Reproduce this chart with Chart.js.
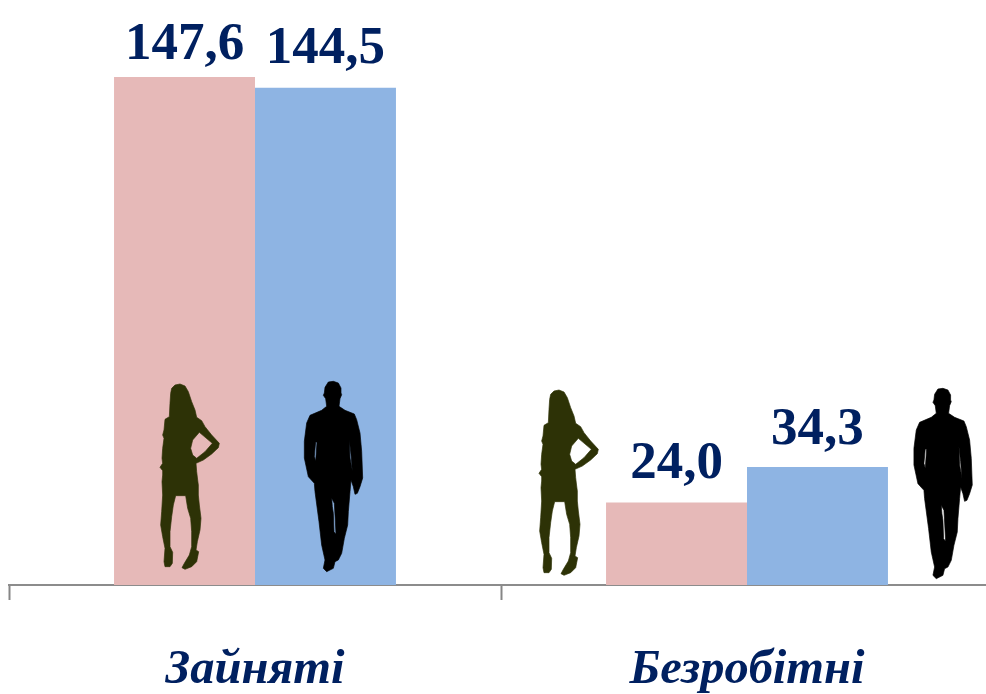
<!DOCTYPE html>
<html>
<head>
<meta charset="utf-8">
<style>
  html, body { margin: 0; padding: 0; background: #fff; overflow: hidden; }
  #wrap { width: 986px; height: 694px; overflow: hidden; }
  canvas { display: block; }
</style>
<script src="https://cdn.jsdelivr.net/npm/chart.js@4"></script>
</head>
<body>
<div id="wrap"><canvas id="chart" width="1000" height="694"></canvas></div>
<script>
const categories = ['Зайняті', 'Безробітні'];
const womenValues = [147.6, 24.0];
const menValues = [144.5, 34.3];

const labelColor = '#002060';
const womanColor = '#2d3206';
const manColor = '#000000';

// gap between bar top and label baseline, the labels do not sit evenly in the picture
const labelGaps = [[18, 24], [25, 23]];

// silhouette outlines, in 3x units around a (140,370) origin
const womanOutline = [[120,42],[135,48],[145,65],[155,95],[165,120],[170,142],[185,152],[195,170],[215,195],[238,220],[235,233],[215,252],[190,270],[168,280],[170,305],[173,330],[175,345],[175,375],[178,405],[183,445],[180,480],[172,515],[168,540],[176,545],[170,575],[155,590],[135,598],[126,593],[133,580],[148,555],[155,530],[155,485],[152,445],[143,415],[137,377],[107,377],[100,405],[95,440],[90,485],[90,530],[98,547],[97,580],[90,590],[75,590],[72,575],[75,535],[68,500],[62,465],[65,425],[68,375],[66,335],[68,315],[68,302],[60,292],[68,280],[66,265],[68,235],[72,205],[68,195],[72,180],[75,148],[88,140],[90,100],[92,70],[95,55],[105,45]];
const womanHole = [[178,187],[217,220],[195,245],[170,265],[158,255],[152,235],[158,210]];
const manOutline = [[580,34],[595,39],[603,54],[603,69],[605,74],[600,86],[597,109],[615,121],[643,132],[650,149],[660,189],[665,244],[668,324],[660,350],[652,370],[645,373],[640,350],[633,330],[630,365],[625,425],[623,465],[613,505],[605,550],[595,570],[585,575],[580,595],[560,605],[550,595],[555,570],[545,525],[537,455],[525,365],[523,340],[505,320],[493,264],[493,214],[500,159],[510,136],[545,121],[560,109],[557,86],[550,76],[553,69],[555,52],[565,36]];
const manHoles = [
    [[527,216],[531,216],[527,274],[523,259]],
    [[628,209],[633,254],[637,302],[630,264]],
    [[575,385],[583,400],[585,435],[588,493],[582,485],[580,430],[577,410]]
];

function tracePolygon(ctx, pts) {
    pts.forEach((p, i) => {
        if (i === 0) ctx.moveTo(p[0], p[1]);
        else ctx.lineTo(p[0], p[1]);
    });
    ctx.closePath();
}

function drawFigure(ctx, shapes, color, dx, dy) {
    ctx.save();
    ctx.translate(140 + dx, 370 + dy);
    ctx.scale(1 / 3, 1 / 3);
    ctx.beginPath();
    shapes.forEach(s => tracePolygon(ctx, s));
    ctx.fillStyle = color;
    ctx.strokeStyle = color;
    ctx.lineWidth = 2;
    ctx.lineJoin = 'round';
    ctx.fill('evenodd');
    ctx.stroke();
    ctx.restore();
}

const figuresPlugin = {
    id: 'figures',
    afterDatasetsDraw(chart) {
        const ctx = chart.ctx;
        drawFigure(ctx, [womanOutline, womanHole], womanColor, 0, 0);
        drawFigure(ctx, [manOutline, ...manHoles], manColor, 0, 0);
        drawFigure(ctx, [womanOutline, womanHole], womanColor, 379, 6);
        drawFigure(ctx, [manOutline, ...manHoles], manColor, 609.6, 7);
    }
};

const valueLabelsPlugin = {
    id: 'valueLabels',
    afterDatasetsDraw(chart) {
        const ctx = chart.ctx;
        ctx.save();
        ctx.font = 'bold 53px "Liberation Serif"';
        ctx.fillStyle = labelColor;
        ctx.textAlign = 'center';
        ctx.textBaseline = 'alphabetic';
        chart.data.datasets.forEach((ds, d) => {
            chart.getDatasetMeta(d).data.forEach((bar, i) => {
                const text = ds.data[i].toFixed(1).replace('.', ',');
                ctx.fillText(text, bar.x, bar.y - labelGaps[d][i]);
            });
        });
        ctx.restore();
    }
};

new Chart(document.getElementById('chart'), {
    type: 'bar',
    data: {
        labels: categories,
        datasets: [
            { label: 'Жінки', data: womenValues, backgroundColor: '#e6b9b8' },
            { label: 'Чоловіки', data: menValues, backgroundColor: '#8eb4e3' }
        ]
    },
    options: {
        responsive: false,
        animation: false,
        layout: { padding: { left: 9, right: 7, top: 0, bottom: 0 } },
        plugins: { legend: { display: false }, tooltip: { enabled: false } },
        datasets: { bar: { categoryPercentage: 0.573, barPercentage: 1 } },
        scales: {
            y: { display: false, min: 0, max: 170 },
            x: {
                afterFit(scale) { scale.height = 109; },
                border: { color: '#8c8c8c', width: 2 },
                grid: { offset: true, drawOnChartArea: false, drawTicks: true, color: '#868686', tickLength: 15, tickWidth: 2 },
                ticks: {
                    color: labelColor,
                    padding: 41,
                    maxRotation: 0,
                    font: { family: '"Liberation Serif"', size: 48.5, style: 'italic', weight: 'bold' }
                }
            }
        }
    },
    plugins: [valueLabelsPlugin, figuresPlugin]
});
</script>
</body>
</html>
